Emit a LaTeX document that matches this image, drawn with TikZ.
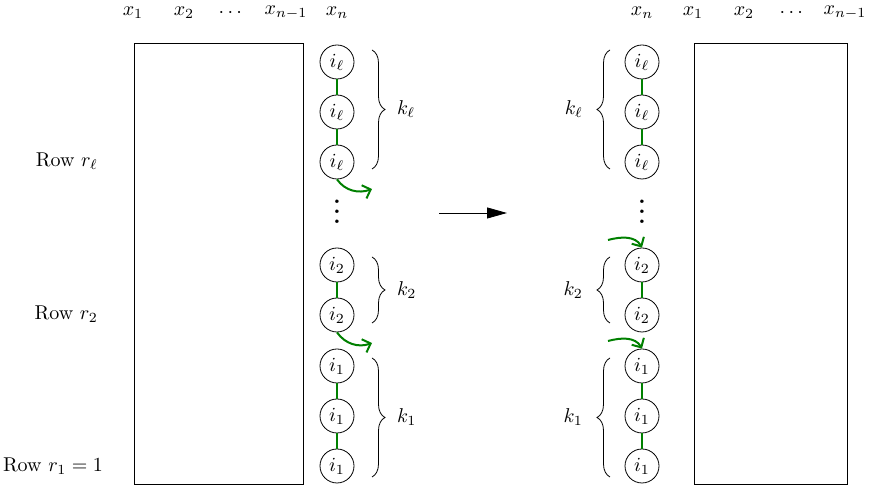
\documentclass[tikz,border=0pt]{standalone}
\usepackage{amsmath,amssymb}
\usepackage{tikz}
\usetikzlibrary{arrows.meta,calc,positioning,decorations.pathreplacing}
\definecolor{chGreen}{HTML}{008000}

\begin{document}
\begin{tikzpicture}[x=25pt,y=25pt,
  cell/.style={circle,draw,minimum size=17pt,inner sep=0pt},
  link/.style={chGreen,line width=1pt},
  jump/.style={chGreen,line width=1pt,-{Straight Barb[length=3.5pt,width=7pt]}},
  brc/.style={decorate,decoration={brace,amplitude=6.5pt}}]
\useasboundingbox (0,-0.02) rectangle (17.38,9.68);
% left: block before the move
\draw (2.68,0) rectangle (6.06,8.82);
\foreach \lab/\x [count=\k] in {x_1/2.66,x_2/3.68,\cdots/4.64,x_{n-1}/5.72,x_n/6.74}
  \node (lx\k) at (\x,9.42) {$\lab$};
\foreach \y [count=\k] in {0.36,1.36,2.36} \node[cell] (l1\k) at (6.74,\y) {$i_1$};
\foreach \y [count=\k] in {3.38,4.38} \node[cell] (l2\k) at (6.74,\y) {$i_2$};
\foreach \y [count=\k] in {6.44,7.44,8.44} \node[cell] (ll\k) at (6.74,\y) {$i_\ell$};
\node[font=\Large,scale=1.25] (ldots) at (6.74,5.59) {$\vdots$};
\node[anchor=east] (rowl) at (2.1,6.46) {Row $r_\ell$};
\node[anchor=east] (rowt) at (2.1,3.4) {Row $r_2$};
\node[anchor=east] (rowo) at (2.2,0.36) {Row $r_1 = 1$};
\draw[brc] (7.44,8.68) -- (7.44,6.30) node[midway,right=9pt] (lkl) {$k_\ell$};
\draw[brc] (7.44,4.54) -- (7.44,3.22) node[midway,right=9pt] (lkt) {$k_2$};
\draw[brc] (7.44,2.52) -- (7.44,0.14) node[midway,right=9pt] (lko) {$k_1$};
\coordinate (lel) at (7.44,5.90);
\coordinate (let) at (7.44,2.82);
\draw[jump] (ll1.south) to[out=-55,in=200] (lel);
\draw[jump] (l21.south) to[out=-55,in=200] (let);
% middle arrow
\coordinate (mA) at (8.78,5.42);
\coordinate (mB) at (10.14,5.42);
\draw[-{Triangle[length=10pt,width=5.5pt]}] (mA) -- (mB);
% right: block after the move
\draw (13.88,0) rectangle (16.94,8.82);
\foreach \lab/\x [count=\k] in {x_n/12.84,x_1/13.86,x_2/14.88,\cdots/15.86,x_{n-1}/16.9}
  \node (rx\k) at (\x,9.42) {$\lab$};
\foreach \y [count=\k] in {0.36,1.36,2.36} \node[cell] (r1\k) at (12.84,\y) {$i_1$};
\foreach \y [count=\k] in {3.38,4.38} \node[cell] (r2\k) at (12.84,\y) {$i_2$};
\foreach \y [count=\k] in {6.44,7.44,8.44} \node[cell] (rl\k) at (12.84,\y) {$i_\ell$};
\node[font=\Large,scale=1.25] (rdots) at (12.84,5.59) {$\vdots$};
\draw[brc] (12.2,6.30) -- (12.2,8.68) node[midway,left=10pt] (rkl) {$k_\ell$};
\draw[brc] (12.2,3.22) -- (12.2,4.54) node[midway,left=10pt] (rkt) {$k_2$};
\draw[brc] (12.2,0.14) -- (12.2,2.52) node[midway,left=10pt] (rko) {$k_1$};
\coordinate (ret) at (12.16,4.88);
\coordinate (reo) at (12.16,2.86);
\draw[jump] (ret) to[out=15,in=120] (r22.north);
\draw[jump] (reo) to[out=15,in=120] (r13.north);
\foreach \a/\b in {l11/l12,l12/l13,l21/l22,ll1/ll2,ll2/ll3,r11/r12,r12/r13,r21/r22,rl1/rl2,rl2/rl3}
  \draw[link] (\a) -- (\b);
\end{tikzpicture}
\end{document}
